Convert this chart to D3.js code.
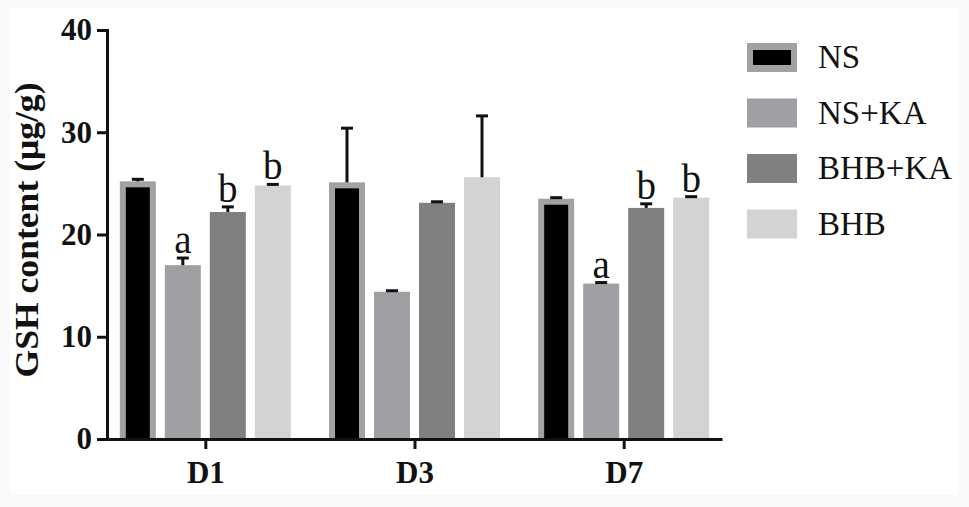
<!DOCTYPE html>
<html lang="en">
  <head>
    <meta charset="utf-8" />
    <title>GSH content</title>
    <script src="https://d3js.org/d3.v7.min.js"></script>
    <style>
      body { margin: 0; background: #f9f9f9; }
      svg text { font-family: "Liberation Serif", "Times New Roman", serif; fill: #111; }
    </style>
  </head>
  <body>
    <div id="chart"></div>
    <script>
      // data
      const days = ["D1", "D3", "D7"];
      const groups = ["NS", "NS+KA", "BHB+KA", "BHB"];
      const means = {
        "NS": [25.2, 25.1, 23.5],
        "NS+KA": [17.0, 14.4, 15.2],
        "BHB+KA": [22.2, 23.1, 22.6],
        "BHB": [24.8, 25.6, 23.6]
      };
      const errors = {
        "NS": [0.2, 5.3, 0.1],
        "NS+KA": [0.7, 0.1, 0.1],
        "BHB+KA": [0.5, 0.1, 0.4],
        "BHB": [0.1, 6.0, 0.1]
      };
      const letters = {
        "NS": ["", "", ""],
        "NS+KA": ["a", "", "a"],
        "BHB+KA": ["b", "", "b"],
        "BHB": ["b", "", "b"]
      };
      const yTicks = [0, 10, 20, 30, 40];

      var width = 969;
      var height = 507;
      var fills = { "NS": "#000000", "NS+KA": "#a0a0a4", "BHB+KA": "#808080", "BHB": "#d3d3d3" };
      var stroke = "#a2a2a2";

      var svg = d3.select("#chart").append("svg")
        .attr("width", width)
        .attr("height", height);

      svg.append("rect")
        .attr("x", 10).attr("y", 8)
        .attr("width", width - 20).attr("height", height - 20)
        .attr("fill", "#fff");

      var y = d3.scaleLinear().domain([0, 40]).range([439, 30]);
      var x = d3.scalePoint().domain(days).range([107, 722]).padding(0.47);
      var xi = d3.scaleBand().domain(groups).range([-85.5, 85.5]).paddingInner(0.2);

      // bars
      var g = svg.append("g");
      days.forEach(function (day, di) {
        groups.forEach(function (grp) {
          var v = means[grp][di];
          var bx = x(day) + xi(grp);
          var bw = xi.bandwidth();
          if (grp === "NS") {
            g.append("rect")
              .attr("x", bx).attr("y", y(v))
              .attr("width", bw).attr("height", y(0) - y(v))
              .attr("fill", stroke);
            g.append("rect")
              .attr("x", bx + 6).attr("y", y(v) + 6)
              .attr("width", bw - 12).attr("height", y(0) - y(v) - 6)
              .attr("fill", fills[grp]);
          } else {
            g.append("rect")
              .attr("x", bx).attr("y", y(v))
              .attr("width", bw).attr("height", y(0) - y(v))
              .attr("fill", fills[grp]);
          }
          // error bar (upper only)
          var cx = bx + bw / 2;
          var top = y(v + errors[grp][di]);
          g.append("line")
            .attr("x1", cx).attr("x2", cx)
            .attr("y1", y(v)).attr("y2", top)
            .attr("stroke", "#111").attr("stroke-width", 3);
          g.append("line")
            .attr("x1", cx - 6).attr("x2", cx + 6)
            .attr("y1", top).attr("y2", top)
            .attr("stroke", "#111").attr("stroke-width", 3);
          var lt = letters[grp][di];
          if (lt) {
            g.append("text")
              .attr("x", cx).attr("y", top - 5)
              .attr("text-anchor", "middle")
              .style("font-size", "39px")
              .text(lt);
          }
        });
      });

      // axes
      var yAxis = svg.append("g")
        .attr("transform", "translate(107,0)")
        .call(d3.axisLeft(y).tickValues(yTicks).tickSize(10).tickPadding(5));
      yAxis.select(".domain").attr("stroke", "#111").attr("stroke-width", 3);
      yAxis.selectAll(".tick line").attr("stroke", "#111").attr("stroke-width", 3);
      yAxis.selectAll(".tick text")
        .style("font-size", "31px").style("font-weight", "bold");

      var xAxis = svg.append("g")
        .attr("transform", "translate(0,439)")
        .call(d3.axisBottom(x).tickSize(10).tickPadding(12).tickSizeOuter(0));
      xAxis.select(".domain").attr("stroke", "#111").attr("stroke-width", 3);
      xAxis.selectAll(".tick line").attr("stroke", "#111").attr("stroke-width", 3);
      xAxis.selectAll(".tick text")
        .style("font-size", "31px").style("font-weight", "bold");

      svg.append("text")
        .attr("transform", "translate(38,230) rotate(-90)")
        .attr("text-anchor", "middle")
        .attr("textLength", 295)
        .attr("lengthAdjust", "spacingAndGlyphs")
        .style("font-size", "33px")
        .style("font-weight", "bold")
        .text("GSH content (μg/g)");

      // legend
      var legend = svg.selectAll(".legend")
        .data(groups)
        .enter()
        .append("g")
        .attr("class", "legend")
        .attr("transform", function (d, i) {
          return "translate(747," + (43 + i * 55.5) + ")";
        });
      legend.append("rect")
        .attr("width", 50).attr("height", 29)
        .attr("fill", function (d) { return d === "NS" ? stroke : fills[d]; });
      legend.filter(function (d) { return d === "NS"; })
        .append("rect")
        .attr("x", 6).attr("y", 7)
        .attr("width", 38).attr("height", 15)
        .attr("fill", "#000");
      legend.append("text")
        .attr("x", 71).attr("y", 25)
        .style("font-size", "33px")
        .text(function (d) { return d; });
    </script>
  </body>
</html>
